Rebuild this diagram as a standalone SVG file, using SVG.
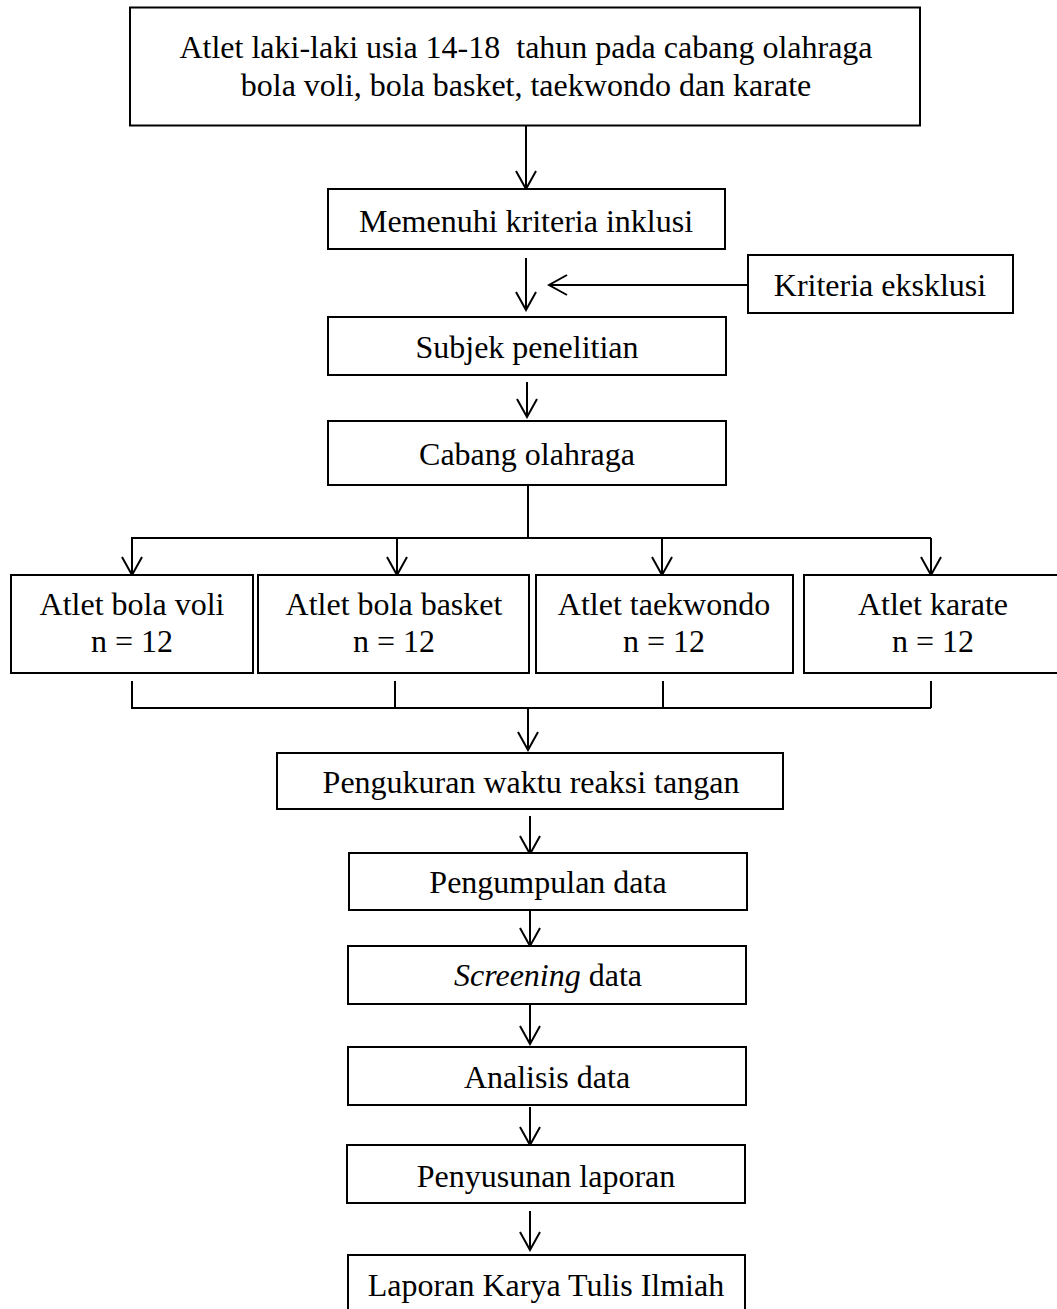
<svg xmlns="http://www.w3.org/2000/svg" width="1057" height="1309" viewBox="0 0 1057 1309">
<style>
.box{fill:#fff;stroke:#000;stroke-width:2}
.t{font-family:"Liberation Serif","Times New Roman",serif;font-size:32px;fill:#000;text-anchor:middle}
.c{fill:none;stroke:#000;stroke-width:2}
</style>
<defs>
<marker id="ah" viewBox="-20 -12 22 24" refX="0" refY="0" markerWidth="22" markerHeight="24" markerUnits="userSpaceOnUse" orient="auto">
<path d="M-18,-10 L0,0 L-18,10" fill="none" stroke="#000" stroke-width="2"/>
</marker>
</defs>
<rect width="1057" height="1309" fill="#fff"/>
<g id="connectors">
<line class="c" x1="526" y1="126" x2="526" y2="189" marker-end="url(#ah)"/>
<line class="c" x1="526" y1="258" x2="526" y2="310" marker-end="url(#ah)"/>
<line class="c" x1="748" y1="285" x2="549" y2="285" marker-end="url(#ah)"/>
<line class="c" x1="527" y1="382" x2="527" y2="417" marker-end="url(#ah)"/>
<polyline class="c" points="528,485 528,538"/>
<line class="c" x1="131" y1="538" x2="931" y2="538"/>
<line class="c" x1="132" y1="538" x2="132" y2="575" marker-end="url(#ah)"/>
<line class="c" x1="397" y1="538" x2="397" y2="575" marker-end="url(#ah)"/>
<line class="c" x1="662" y1="538" x2="662" y2="575" marker-end="url(#ah)"/>
<line class="c" x1="931" y1="538" x2="931" y2="575" marker-end="url(#ah)"/>
<line class="c" x1="132" y1="681" x2="132" y2="708"/>
<line class="c" x1="395" y1="681" x2="395" y2="708"/>
<line class="c" x1="663" y1="681" x2="663" y2="708"/>
<line class="c" x1="931" y1="681" x2="931" y2="708"/>
<line class="c" x1="131" y1="708" x2="931" y2="708"/>
<line class="c" x1="528" y1="708" x2="528" y2="750" marker-end="url(#ah)"/>
<line class="c" x1="530" y1="816" x2="530" y2="854" marker-end="url(#ah)"/>
<line class="c" x1="530" y1="910" x2="530" y2="946" marker-end="url(#ah)"/>
<line class="c" x1="530" y1="1004" x2="530" y2="1044" marker-end="url(#ah)"/>
<line class="c" x1="530" y1="1107" x2="530" y2="1145" marker-end="url(#ah)"/>
<line class="c" x1="530" y1="1211" x2="530" y2="1250" marker-end="url(#ah)"/>
</g>
<g id="n-top"><rect class="box" x="130" y="7.5" width="790" height="118" stroke-width="2.5"/>
<text class="t" x="526" y="58" xml:space="preserve">Atlet laki-laki usia 14-18  tahun pada cabang olahraga</text>
<text class="t" x="526" y="96">bola voli, bola basket, taekwondo dan karate</text></g>
<g id="n-inklusi"><rect class="box" x="328" y="189" width="397" height="60"/>
<text class="t" x="526" y="232">Memenuhi kriteria inklusi</text></g>
<g id="n-eksklusi"><rect class="box" x="748" y="255" width="265" height="58"/>
<text class="t" x="880" y="296">Kriteria eksklusi</text></g>
<g id="n-subjek"><rect class="box" x="328" y="317" width="398" height="58"/>
<text class="t" x="527" y="358">Subjek penelitian</text></g>
<g id="n-cabang"><rect class="box" x="328" y="421" width="398" height="64"/>
<text class="t" x="527" y="465">Cabang olahraga</text></g>
<g id="n-voli"><rect class="box" x="11" y="575" width="242" height="98"/>
<text class="t" x="132" y="615">Atlet bola voli</text><text class="t" x="132" y="652">n = 12</text></g>
<g id="n-basket"><rect class="box" x="258" y="575" width="271" height="98"/>
<text class="t" x="394" y="615">Atlet bola basket</text><text class="t" x="394" y="652">n = 12</text></g>
<g id="n-taekwondo"><rect class="box" x="536" y="575" width="257" height="98"/>
<text class="t" x="664" y="615">Atlet taekwondo</text><text class="t" x="664" y="652">n = 12</text></g>
<g id="n-karate"><rect class="box" x="804" y="575" width="260" height="98"/>
<text class="t" x="933" y="615">Atlet karate</text><text class="t" x="933" y="652">n = 12</text></g>
<g id="n-pengukuran"><rect class="box" x="277" y="753" width="506" height="56"/>
<text class="t" x="531" y="793">Pengukuran waktu reaksi tangan</text></g>
<g id="n-pengumpulan"><rect class="box" x="349" y="853" width="398" height="57"/>
<text class="t" x="548" y="893">Pengumpulan data</text></g>
<g id="n-screening"><rect class="box" x="348" y="946" width="398" height="58"/>
<text class="t" x="548" y="986"><tspan font-style="italic">Screening</tspan> data</text></g>
<g id="n-analisis"><rect class="box" x="348" y="1047" width="398" height="58"/>
<text class="t" x="547" y="1088">Analisis data</text></g>
<g id="n-penyusunan"><rect class="box" x="347" y="1145" width="398" height="58"/>
<text class="t" x="546" y="1187">Penyusunan laporan</text></g>
<g id="n-laporan"><rect class="box" x="348" y="1255" width="397" height="80"/>
<text class="t" x="546" y="1296">Laporan Karya Tulis Ilmiah</text></g>
</svg>
